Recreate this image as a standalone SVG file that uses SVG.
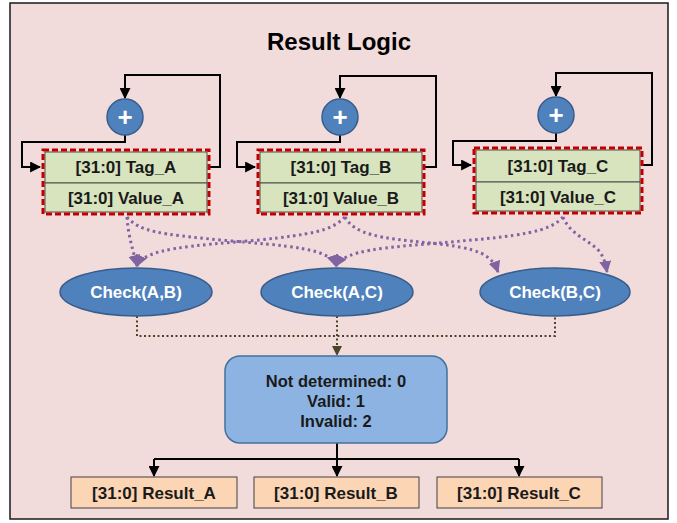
<svg xmlns="http://www.w3.org/2000/svg" width="677" height="523" viewBox="0 0 677 523">
<style>
text{font-family:"Liberation Sans",Arial,sans-serif;font-weight:bold;text-anchor:middle}
.lbl{font-size:17px;fill:#1a1a1a}
.mid{font-size:16.5px;fill:#1a1a1a}
.wl{font-size:17px;fill:#ffffff}
.fb{fill:none;stroke:#000;stroke-width:2;marker-end:url(#ah)}
.pu{fill:none;stroke:#8064a2;stroke-width:3;stroke-dasharray:2.5 3.5;marker-end:url(#ap)}
.br{fill:none;stroke:#4a4528;stroke-width:2;stroke-dasharray:2 2.5}
.green{fill:#d7e4bd;stroke:#4d4d4d;stroke-width:1}
.dash{fill:none;stroke:#c00000;stroke-width:3;stroke-dasharray:6 3}
.plus{fill:#4f81bd;stroke:#385d8a;stroke-width:1.5}
.chk{fill:#4f81bd;stroke:#385d8a;stroke-width:1.5}
.res{fill:#fcd5b5;stroke:#404040;stroke-width:1}
</style>
<defs>
<marker id="ah" viewBox="0 0 10 10" refX="9" refY="5" markerWidth="5.5" markerHeight="5.5" orient="auto" markerUnits="strokeWidth"><path d="M0,0 L10,5 L0,10 z" fill="#000"/></marker>
<marker id="ap" viewBox="0 0 10 10" refX="9" refY="5" markerWidth="4" markerHeight="4" orient="auto" markerUnits="strokeWidth"><path d="M0,0 L10,5 L0,10 z" fill="#8064a2"/></marker>
<marker id="ab" viewBox="0 0 10 10" refX="9" refY="5" markerWidth="5" markerHeight="5" orient="auto" markerUnits="strokeWidth"><path d="M0,0 L10,5 L0,10 z" fill="#4a4528"/></marker>
</defs>
<rect x="10" y="3" width="658" height="516" fill="#f2dcdb" stroke="#1a1a1a" stroke-width="1.5"/>
<text x="339" y="50" style="font-size:24px;fill:#000">Result Logic</text>

<g id="connectors">
<path class="fb" d="M209,167 H220 V75 H125 V98"/>
<path class="fb" d="M125,135 V142 H22 V167 H40"/>
<path class="fb" d="M424,167 H436 V76 H340 V98"/>
<path class="fb" d="M340,135 V142 H237 V167 H255"/>
<path class="fb" d="M642,165 H652 V73 H556 V96"/>
<path class="fb" d="M556,133 V141 H453 V165 H471"/>

<path class="pu" d="M127,217 C128,235 133,250 137,266"/>
<path class="pu" d="M127,217 C140,232 160,234 220,240 C290,246 330,248 336,266"/>
<path class="pu" d="M345,217 C330,232 310,234 260,240 C190,246 145,248 137,266"/>
<path class="pu" d="M345,217 C355,235 380,238 430,243 C480,248 492,255 498,272"/>
<path class="pu" d="M563,217 C550,232 520,236 450,242 C380,248 345,250 336,266"/>
<path class="pu" d="M563,217 C570,235 590,240 600,252 C605,260 606,266 607,272"/>

<path class="br" d="M137,316 V336 H555 V316"/>
<path class="br" d="M337,316 V355" marker-end="url(#ab)"/>

<path d="M337,443 V459" fill="none" stroke="#000" stroke-width="2"/>
<path d="M154,459 H519" fill="none" stroke="#000" stroke-width="2"/>
<path class="fb" d="M154,459 V476"/>
<path class="fb" d="M337,459 V476"/>
<path class="fb" d="M519,459 V476"/>
</g>

<g id="plus_a"><circle class="plus" cx="125" cy="117" r="18"/><text x="125" y="126" style="font-size:26px;fill:#fff">+</text></g>
<g id="plus_b"><circle class="plus" cx="340" cy="117" r="18"/><text x="340" y="126" style="font-size:26px;fill:#fff">+</text></g>
<g id="plus_c"><circle class="plus" cx="556" cy="115" r="18"/><text x="556" y="124" style="font-size:26px;fill:#fff">+</text></g>

<g id="reg_a">
<rect class="green" x="45" y="152" width="162" height="31"/>
<rect class="green" x="45" y="183" width="162" height="29"/>
<rect class="dash" x="43" y="150" width="166" height="64"/>
<text class="lbl" x="126" y="173">[31:0] Tag_A</text>
<text class="lbl" x="126" y="204">[31:0] Value_A</text>
</g>
<g id="reg_b">
<rect class="green" x="260" y="152" width="162" height="31"/>
<rect class="green" x="260" y="183" width="162" height="29"/>
<rect class="dash" x="258" y="150" width="166" height="64"/>
<text class="lbl" x="341" y="173">[31:0] Tag_B</text>
<text class="lbl" x="341" y="204">[31:0] Value_B</text>
</g>
<g id="reg_c">
<rect class="green" x="476" y="150" width="164" height="32"/>
<rect class="green" x="476" y="182" width="164" height="29"/>
<rect class="dash" x="474" y="148" width="168" height="65"/>
<text class="lbl" x="558" y="172">[31:0] Tag_C</text>
<text class="lbl" x="558" y="203">[31:0] Value_C</text>
</g>

<g id="check_ab"><ellipse class="chk" cx="136" cy="292" rx="76" ry="24"/><text class="wl" x="136" y="298">Check(A,B)</text></g>
<g id="check_ac"><ellipse class="chk" cx="337" cy="292" rx="76" ry="24"/><text class="wl" x="337" y="298">Check(A,C)</text></g>
<g id="check_bc"><ellipse class="chk" cx="555" cy="292" rx="75" ry="24"/><text class="wl" x="555" y="298">Check(B,C)</text></g>

<g id="decision">
<rect x="225" y="356" width="222" height="87" rx="15" fill="#8db3e2" stroke="#41719c" stroke-width="1.5"/>
<text class="mid" x="336" y="387">Not determined: 0</text>
<text class="mid" x="336" y="407">Valid: 1</text>
<text class="mid" x="336" y="427">Invalid: 2</text>
</g>

<g id="result_a"><rect class="res" x="71" y="477" width="166" height="31"/><text class="lbl" x="154" y="499">[31:0] Result_A</text></g>
<g id="result_b"><rect class="res" x="254" y="477" width="165" height="31"/><text class="lbl" x="336" y="499">[31:0] Result_B</text></g>
<g id="result_c"><rect class="res" x="437" y="477" width="165" height="31"/><text class="lbl" x="519" y="499">[31:0] Result_C</text></g>
</svg>
